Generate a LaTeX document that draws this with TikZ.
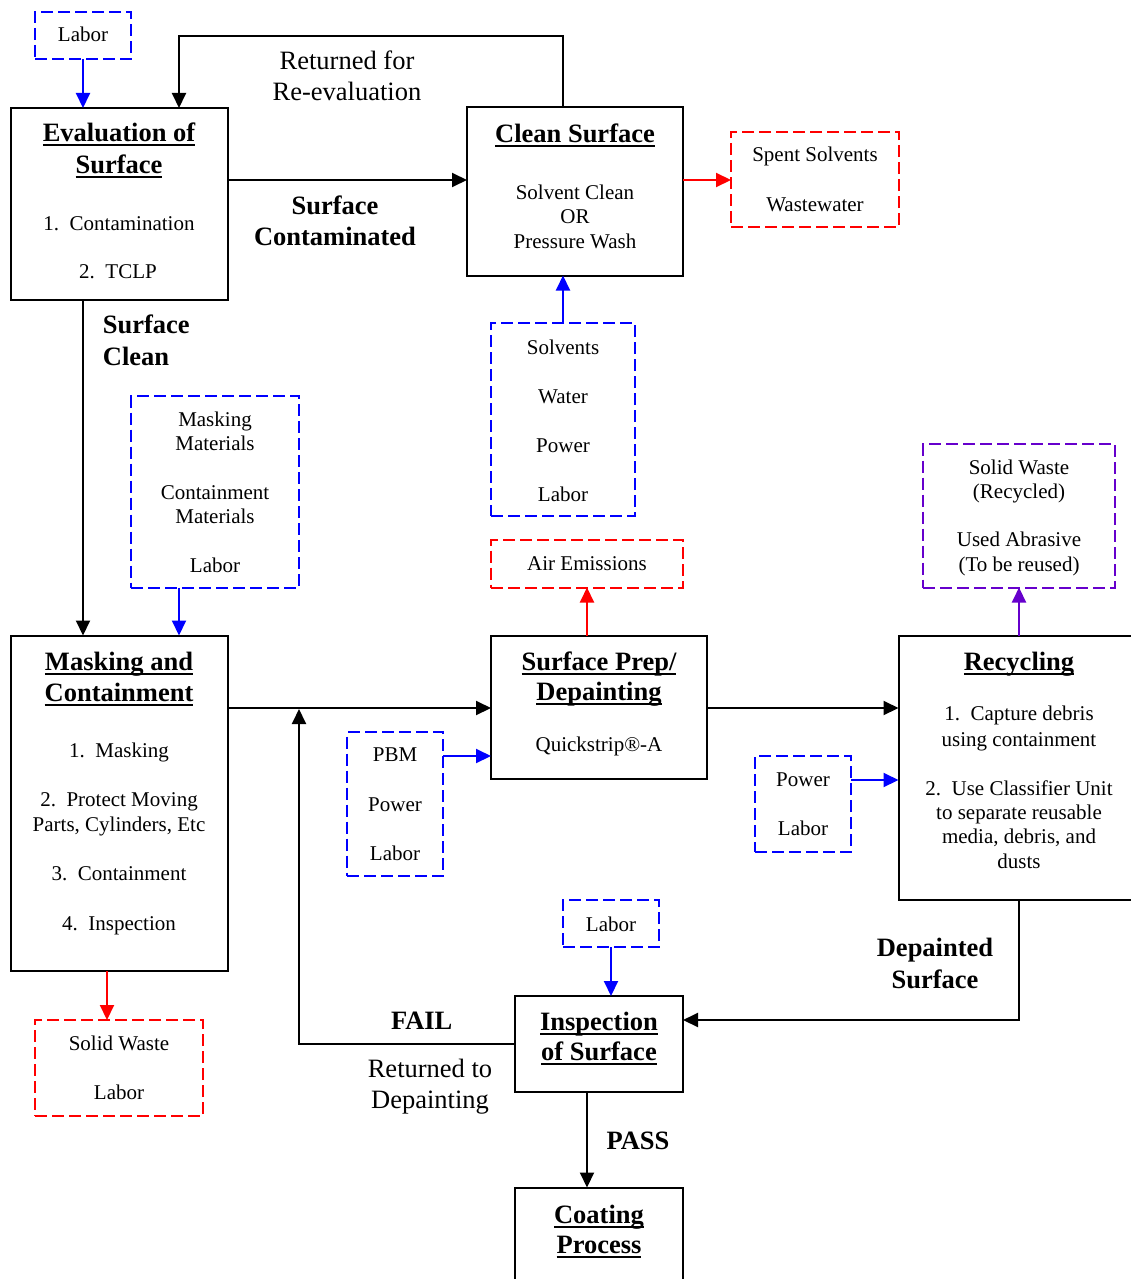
\documentclass[tikz,border=0pt]{standalone}
\usepackage{fontspec}
\setmainfont{Liberation Serif}
\usetikzlibrary{arrows.meta}
\definecolor{bl}{RGB}{0,0,255}
\definecolor{rd}{RGB}{255,0,0}
\definecolor{vio}{RGB}{102,0,204}
\newsavebox\ulbox
\newcommand\ulbar[1]{\sbox\ulbox{#1}\rlap{\rule[-4.5pt]{\wd\ulbox}{2pt}}\usebox\ulbox}
\tikzset{
  boxk/.style={draw=black, line width=2pt, rectangle, inner sep=0pt, outer sep=0pt, anchor=north west},
  dbox/.style={draw=#1, line width=2pt, dash pattern=on 12pt off 5pt, rectangle, inner sep=0pt, outer sep=0pt, anchor=north west},
  con/.style={draw=#1, line width=2pt, -{Triangle[length=15pt,width=14pt]}},
  txt/.style={inner sep=0pt, anchor=base, font=\fontsize{21}{25}\selectfont},
  hdr/.style={inner sep=0pt, anchor=base, font=\bfseries\fontsize{26.5}{31}\selectfont},
  lbl/.style={inner sep=0pt, anchor=base, font=\bfseries\fontsize{26.5}{31}\selectfont},
  lblr/.style={inner sep=0pt, anchor=base, font=\fontsize{26.5}{31}\selectfont},
}
\begin{document}
\begin{tikzpicture}[x=1pt,y=-1pt]
\useasboundingbox (0,0) rectangle (1131,1279);
\begin{scope}
\clip (0,0) rectangle (1131,1279);
% solid boxes
\node[boxk, minimum width=216.5, minimum height=191.5] (eval) at (11,108) {};
\node[boxk, minimum width=216, minimum height=168] (clean) at (467,107.5) {};
\node[boxk, minimum width=216.5, minimum height=335.5] (mask) at (11,635.5) {};
\node[boxk, minimum width=216, minimum height=143] (prep) at (491,636) {};
\node[boxk, minimum width=251.5, minimum height=263.5] (recyc) at (898.5,636) {};
\node[boxk, minimum width=168, minimum height=96] (insp) at (515,996) {};
\node[boxk, minimum width=168, minimum height=112.5] (coat) at (515,1187.5) {};
% dashed boxes
\node[dbox=bl, minimum width=96, minimum height=47] (labA) at (35,12) {};
\node[dbox=rd, minimum width=168, minimum height=95] (spent) at (731,132) {};
\node[dbox=bl, minimum width=144, minimum height=193] (solv) at (491,323) {};
\node[dbox=bl, minimum width=168, minimum height=191.5] (matl) at (131,396) {};
\node[dbox=rd, minimum width=192, minimum height=47.5] (air) at (491,540) {};
\node[dbox=bl, minimum width=96, minimum height=143.5] (pbm) at (347,732) {};
\node[dbox=vio, minimum width=192, minimum height=143.5] (rout) at (923,444) {};
\node[dbox=bl, minimum width=96, minimum height=96] (pow) at (755,756) {};
\node[dbox=bl, minimum width=96, minimum height=47] (labB) at (563,900) {};
\node[dbox=rd, minimum width=168, minimum height=96] (solw) at (35,1020) {};
% helper coordinates
\coordinate (loopR) at (563,36);
\coordinate (loopL) at (179,36);
\coordinate (y180) at (0,180);
\coordinate (x83) at (83,0);
\coordinate (x179) at (179,0);
\coordinate (y708) at (0,708);
\coordinate (y756) at (0,756);
\coordinate (y780) at (0,780);
\coordinate (x1019) at (1019,0);
\coordinate (y1020) at (0,1020);
\coordinate (y1044) at (0,1044);
\coordinate (failTop) at (299,709);
\coordinate (x587) at (587,0);
\coordinate (x107) at (107,0);
% connectors
\draw[con=bl] (labA.south) -- (labA.south |- eval.north);
\draw[con=black] (clean.north -| loopR) -- (loopR) -- (loopL) -- (eval.north -| loopL);
\draw[con=black] (eval.east |- y180) -- (clean.west |- y180);
\draw[con=rd] (clean.east |- y180) -- (spent.west |- y180);
\draw[con=bl] (solv.north) -- (solv.north |- clean.south);
\draw[con=black] (eval.south -| x83) -- (mask.north -| x83);
\draw[con=bl] (matl.south -| x179) -- (mask.north -| x179);
\draw[con=rd] (prep.north -| x587) -- (air.south -| x587);
\draw[con=black] (mask.east |- y708) -- (prep.west |- y708);
\draw[con=bl] (pbm.east |- y756) -- (prep.west |- y756);
\draw[con=black] (prep.east |- y708) -- (recyc.west |- y708);
\draw[con=vio] (recyc.north -| x1019) -- (rout.south -| x1019);
\draw[con=bl] (pow.east |- y780) -- (recyc.west |- y780);
\draw[con=black] (recyc.south -| x1019) |- (insp.east |- y1020);
\draw[con=bl] (labB.south) -- (labB.south |- insp.north);
\draw[con=black] (insp.west |- y1044) -| (failTop);
\draw[con=black] (insp.south -| x587) -- (coat.north -| x587);
\draw[con=rd] (mask.south -| x107) -- (solw.north -| x107);
\end{scope}
% texts
\node[txt] (tlabA) at (83,41.7) {Labor};
\node[hdr] (tev1) at (119,141.7) {\ulbar{Evaluation of}};
\node[hdr] (tev2) at (119,173) {\ulbar{Surface}};
\node[txt] (tev3) at (119,230) {1.\hspace{0.5em}Contamination};
\node[txt] (tev4) at (118,278) {2.\hspace{0.5em}TCLP};
\node[lblr] (tret1) at (347,70) {Returned for};
\node[lblr] (tret2) at (347,101) {Re-evaluation};
\node[hdr] (tcl1) at (575,142.7) {\ulbar{Clean Surface}};
\node[txt] (tcl2) at (575,199) {Solvent Clean};
\node[txt] (tcl3) at (575,223.3) {OR};
\node[txt] (tcl4) at (575,248.3) {Pressure Wash};
\node[txt] (tsp1) at (815,161.7) {Spent Solvents};
\node[txt] (tsp2) at (815,211) {Wastewater};
\node[lbl] (tsc1) at (335,214) {Surface};
\node[lbl] (tsc2) at (335,245) {Contaminated};
\node[lbl, anchor=base west] (tcln1) at (102.7,333.3) {Surface};
\node[lbl, anchor=base west] (tcln2) at (102.7,365) {Clean};
\node[txt] (tso1) at (563,354) {Solvents};
\node[txt] (tso2) at (563,403) {Water};
\node[txt] (tso3) at (563,452) {Power};
\node[txt] (tso4) at (563,501) {Labor};
\node[txt] (tma1) at (215,426) {Masking};
\node[txt] (tma2) at (215,450) {Materials};
\node[txt] (tma3) at (215,499) {Containment};
\node[txt] (tma4) at (215,523.3) {Materials};
\node[txt] (tma5) at (215,572.7) {Labor};
\node[txt] (tair) at (587,570) {Air Emissions};
\node[hdr] (tmk1) at (119,670.7) {\ulbar{Masking and}};
\node[hdr] (tmk2) at (119,701.7) {\ulbar{Containment}};
\node[txt] (tmk3) at (119,757.3) {1.\hspace{0.5em}Masking};
\node[txt] (tmk4) at (119,806.7) {2.\hspace{0.5em}Protect Moving};
\node[txt] (tmk5) at (119,831) {Parts, Cylinders, Etc};
\node[txt] (tmk6) at (119,880) {3.\hspace{0.5em}Containment};
\node[txt] (tmk7) at (119,930) {4.\hspace{0.5em}Inspection};
\node[hdr] (tpr1) at (599,670) {\ulbar{Surface Prep/}};
\node[hdr] (tpr2) at (599,700.7) {\ulbar{Depainting}};
\node[txt] (tpr3) at (599,751.7) {Quickstrip®-A};
\node[txt] (tpb1) at (395,761.7) {PBM};
\node[txt] (tpb2) at (395,811) {Power};
\node[txt] (tpb3) at (395,860) {Labor};
\node[hdr] (trc1) at (1019,670.7) {\ulbar{Recycling}};
\node[txt] (trc2) at (1019,720.7) {1.\hspace{0.5em}Capture debris};
\node[txt] (trc3) at (1019,746) {using containment};
\node[txt] (trc4) at (1019,795) {2.\hspace{0.5em}Use Classifier Unit};
\node[txt] (trc5) at (1019,819) {to separate reusable};
\node[txt] (trc6) at (1019,843.3) {media, debris, and};
\node[txt] (trc7) at (1019,868.3) {dusts};
\node[txt] (tro1) at (1019,474) {Solid Waste};
\node[txt] (tro2) at (1019,498.3) {(Recycled)};
\node[txt] (tro3) at (1019,546.7) {Used Abrasive};
\node[txt] (tro4) at (1019,571.7) {(To be reused)};
\node[txt] (tpw1) at (803,786) {Power};
\node[txt] (tpw2) at (803,835) {Labor};
\node[lbl] (tdp1) at (935,956.7) {Depainted};
\node[lbl] (tdp2) at (935,988.5) {Surface};
\node[txt] (tlabB) at (611,931) {Labor};
\node[hdr] (tin1) at (599,1030) {\ulbar{Inspection}};
\node[hdr] (tin2) at (599,1060.7) {\ulbar{of Surface}};
\node[lbl] (tfail) at (421.7,1029.3) {FAIL};
\node[lblr] (trt1) at (430,1077.7) {Returned to};
\node[lblr] (trt2) at (430,1108.3) {Depainting};
\node[lbl] (tpass) at (638,1149.3) {PASS};
\node[hdr] (tco1) at (599,1223.3) {\ulbar{Coating}};
\node[hdr] (tco2) at (599,1253.3) {\ulbar{Process}};
\node[txt] (tsw1) at (119,1050) {Solid Waste};
\node[txt] (tsw2) at (119,1099) {Labor};
\end{tikzpicture}
\end{document}
